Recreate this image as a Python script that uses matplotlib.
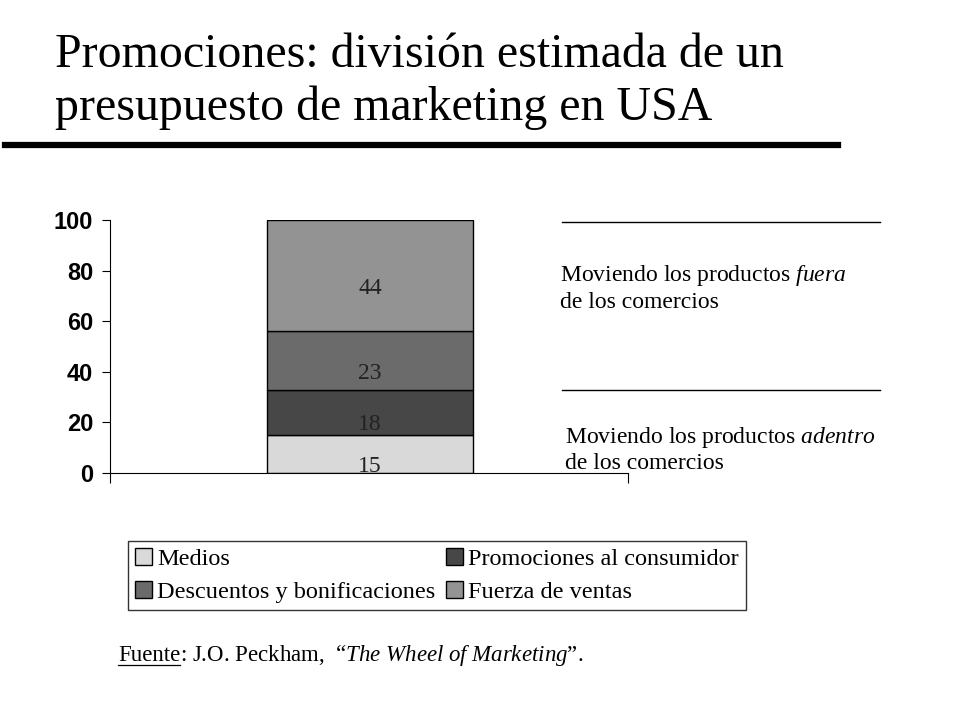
import matplotlib.pyplot as plt
from matplotlib.lines import Line2D

plt.rcParams['mathtext.fontset'] = 'custom'
plt.rcParams['mathtext.rm'] = 'Liberation Serif'
plt.rcParams['mathtext.it'] = 'Liberation Serif:italic'

categories = ['Medios', 'Promociones al consumidor', 'Descuentos y bonificaciones', 'Fuerza de ventas']
values = [15, 18, 23, 44]
colors = ['#d9d9d9', '#474747', '#6b6b6b', '#939393']
yticks = [0, 20, 40, 60, 80, 100]

fig = plt.figure(figsize=(9.6, 7.2), dpi=100)

# title + thick underline
fig.text(0.057, 0.887, 'Promociones: división estimada de un\npresupuesto de marketing en USA',
         family='Liberation Serif', fontsize=34.5, va='center', ha='left', linespacing=1.25)
fig.add_artist(Line2D([0.005, 0.873], [0.799, 0.799], color='black', lw=4.5))

ax = fig.add_axes([0.1146, 0.343, 0.5396, 0.3514])
bottom = 0
bars = []
for cat, v, c in zip(categories, values, colors):
    b = ax.bar(0.502, v, width=0.398, bottom=bottom, color=c, edgecolor='black', linewidth=1, label=cat)
    ax.text(0.502, bottom + v / 2 - 5, str(v), ha='center', va='center',
            family='Liberation Serif', fontsize=17, color='#222222')
    bars.append(b)
    bottom += v

ax.set_xlim(0, 1)
ax.set_ylim(0, 100)
ax.set_yticks(yticks)
ax.set_xticks([0, 1])
ax.set_xticklabels([])
ax.tick_params(axis='x', length=7, direction='out')
ax.tick_params(axis='y', length=6, direction='out', pad=6)
for lab in ax.get_yticklabels():
    lab.set_family('Liberation Sans')
    lab.set_fontweight('bold')
    lab.set_fontsize(17)
ax.spines['top'].set_visible(False)
ax.spines['right'].set_visible(False)

# right side annotations
fig.add_artist(Line2D([0.585, 0.917], [0.691, 0.691], color='black', lw=1))
fig.add_artist(Line2D([0.585, 0.917], [0.458, 0.458], color='black', lw=1))
fig.text(0.583, 0.600, 'Moviendo los productos $\\mathit{fuera}$\nde los comercios',
         family='Liberation Serif', fontsize=17, va='center', ha='left', linespacing=1.2)
fig.text(0.589, 0.376, 'Moviendo los productos $\\mathit{adentro}$\nde los comercios',
         family='Liberation Serif', fontsize=17, va='center', ha='left', linespacing=1.2)

# legend
order = [0, 2, 1, 3]
leg = fig.legend([bars[i] for i in order], [categories[i] for i in order], ncol=2,
                 loc='upper left', bbox_to_anchor=(0.133, 0.249), mode=None,
                 prop={'family': 'Liberation Serif', 'size': 17.5}, frameon=True, fancybox=False,
                 edgecolor='black', handlelength=0.7, handleheight=0.7, handletextpad=0.2,
                 columnspacing=0.45, labelspacing=0.45, borderpad=0.3, borderaxespad=0)
leg.get_frame().set_linewidth(1)

# source
fig.canvas.draw()
t = fig.text(0.123, 0.082, 'Fuente', family='Liberation Serif', fontsize=16.5, va='baseline')
r = fig.canvas.get_renderer()
bb = t.get_window_extent(r)
W, H = fig.get_size_inches() * fig.dpi
fig.add_artist(Line2D([bb.x0 / W, bb.x1 / W], [0.076, 0.076], color='black', lw=0.9))
fig.text(bb.x1 / W, 0.082, ': J.O. Peckham,  $\\mathit{\u201cThe\\ Wheel\\ of\\ Marketing\u201d}$.',
         family='Liberation Serif', fontsize=16.5, va='baseline')

fig.savefig('out.png', dpi=100)
